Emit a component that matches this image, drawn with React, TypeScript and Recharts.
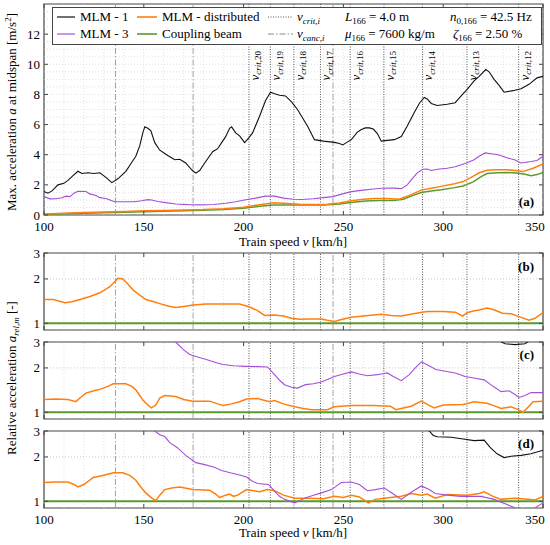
import React from 'react';
import { LineChart, Line, XAxis, YAxis, ReferenceLine, ReferenceArea } from 'recharts';

type P = [number, number];

const FONT = "'Liberation Serif', 'DejaVu Serif', serif";
const PLOT_W = 499;

const xTicks = [100, 150, 200, 250, 300, 350];
const yTicksAbs = [0, 2, 4, 6, 8, 10, 12];
const yTicksRel = [1, 2, 3];
const gridX = [110, 120, 130, 140, 150, 160, 170, 180, 190, 200, 210, 220, 230, 240, 250, 260, 270, 280, 290, 300, 310, 320, 330, 340];
const gridYAbs = [0.5, 1, 1.5, 2, 2.5, 3, 3.5, 4, 4.5, 5, 5.5, 6, 6.5, 7, 7.5, 8, 8.5, 9, 9.5, 10, 10.5, 11, 11.5, 12, 12.5, 13, 13.5];
const gridYRel = [2];

const vCrit = [202.7, 213.4, 225.2, 238.5, 253.4, 270.3, 289.6, 311.9, 337.8];
const vCritIdx = [20, 19, 18, 17, 16, 15, 14, 13, 12];
const vCanc = [135.8, 174.7, 244.8];

// Panel (a): absolute max acceleration [m/s^2]
const mlm1Abs: P[] = [[100,1.55],[102,1.45],[104,1.6],[107,2.0],[110,2.1],[112,2.3],[114,2.55],[117,2.9],[119,2.75],[122,2.8],[125,2.75],[128,2.8],[131,2.5],[134,2.15],[137,2.4],[141,2.9],[144,3.5],[146,3.9],[148,4.6],[149.5,5.45],[150.5,5.85],[152,5.75],[153.5,5.6],[155.5,4.8],[158,4.3],[162,3.95],[165.5,3.67],[168,3.7],[171,3.45],[174,3.0],[176,2.78],[178,2.95],[180.5,3.45],[184.5,4.2],[187,4.4],[189,4.8],[191,5.2],[193,5.75],[194,5.85],[196,5.45],[198,5.25],[200.5,4.8],[202.5,5.1],[204.5,5.45],[208,6.55],[211,7.6],[213.5,8.15],[215.5,8.05],[218,7.95],[221,7.9],[224,7.5],[227,7.0],[232,5.9],[235.5,5.0],[240,4.9],[245.5,4.82],[248,4.75],[249.7,4.65],[251.5,4.8],[254,5.0],[257,5.5],[259,5.67],[261,5.78],[263,5.78],[265,5.7],[267,5.4],[269,4.9],[272,4.95],[275.5,5.0],[279,5.2],[282,5.9],[285.5,6.8],[288,7.4],[290.5,7.8],[292,7.7],[294,7.4],[297,7.27],[302,7.35],[306,7.45],[309,7.9],[312,8.33],[315.5,8.9],[318,9.2],[321.3,9.65],[323,9.5],[325.5,9.0],[328,8.6],[330.5,8.15],[335,8.25],[339,8.38],[343,8.67],[347,9.1],[350,9.2]];
const mlm3Abs: P[] = [[100,1.22],[103,1.07],[106,1.08],[109,1.15],[111,1.25],[113,1.22],[115,1.45],[117,1.57],[121,1.56],[123,1.4],[126,1.3],[128,1.15],[131,1.1],[133,1.0],[135.5,0.88],[140,0.88],[145,0.88],[149,0.95],[152,1.02],[154,1.0],[157,0.9],[161,0.82],[166,0.73],[172,0.69],[178,0.67],[185,0.7],[191,0.78],[196,0.88],[200.5,1.0],[206,1.12],[211,1.25],[215.5,1.25],[220,1.12],[225,1.05],[229,1.03],[235,1.08],[240,1.15],[244.7,1.22],[250,1.42],[254,1.55],[260,1.65],[265,1.72],[269,1.77],[275,1.78],[279,1.75],[282,2.0],[284,2.33],[287,2.8],[289.7,3.04],[292,3.05],[294,2.95],[298,3.05],[302,3.1],[306,3.2],[311,3.42],[315.5,3.67],[318,3.9],[321,4.12],[325,4.05],[328,3.98],[332,3.8],[336,3.65],[339,3.45],[344,3.55],[347,3.62],[350,3.9]];
const distAbs: P[] = [[100,0.07],[110,0.12],[120,0.16],[130,0.2],[140,0.24],[150,0.28],[160,0.3],[170,0.33],[180,0.36],[190,0.42],[200,0.52],[208,0.68],[215,0.82],[220,0.78],[228,0.72],[235,0.7],[242,0.72],[248,0.8],[254,0.95],[260,1.05],[266,1.1],[272,1.1],[278,1.05],[284,1.35],[289,1.65],[294,1.78],[299,1.9],[305,2.05],[310,2.22],[314,2.5],[318,2.8],[322,2.97],[327,3.0],[332,3.0],[336,2.95],[340,2.88],[345,3.1],[350,3.38]];
const beamAbs: P[] = [[100,0.04],[110,0.08],[120,0.12],[130,0.15],[140,0.19],[150,0.22],[160,0.25],[170,0.28],[180,0.31],[190,0.36],[200,0.45],[208,0.58],[215,0.67],[222,0.67],[230,0.66],[240,0.67],[248,0.73],[255,0.85],[261,0.93],[268,0.96],[275,0.97],[280,1.05],[285,1.3],[289,1.49],[294,1.6],[299,1.67],[305,1.8],[310,1.93],[315,2.2],[319,2.55],[322,2.75],[327,2.8],[332,2.82],[337,2.78],[341,2.7],[344,2.6],[347,2.68],[350,2.82]];

// Panel (b): relative acceleration
const distRelB: P[] = [[100,1.45],[104.7,1.45],[110.5,1.38],[114,1.4],[118,1.45],[123,1.52],[128,1.61],[133,1.77],[135.5,1.92],[137,2.02],[139.5,2.0],[142,1.85],[144.7,1.68],[148,1.55],[151,1.45],[155,1.4],[158,1.36],[162,1.31],[166,1.28],[170,1.3],[174.7,1.33],[181,1.35],[190,1.35],[198,1.35],[203,1.29],[207,1.22],[210.5,1.13],[215.5,1.14],[220,1.12],[224,1.08],[228,1.065],[233,1.07],[239,1.07],[242,1.05],[245.5,1.03],[249,1.06],[254,1.1],[260,1.12],[265,1.14],[269,1.15],[274,1.13],[279,1.12],[285,1.16],[292,1.2],[300,1.2],[306,1.19],[309.7,1.12],[312,1.18],[315,1.21],[318,1.23],[322,1.27],[325,1.24],[329.7,1.17],[334,1.16],[338,1.11],[343,1.05],[346,1.08],[350,1.18]];
const beamRel: P[] = [[100,1],[350,1]];

// Panel (c)
const distRelC: P[] = [[100,1.22],[106,1.23],[112,1.22],[116,1.18],[118,1.25],[121,1.35],[125,1.4],[128,1.43],[132,1.5],[134.7,1.56],[141,1.56],[144,1.5],[146,1.42],[148,1.3],[149.5,1.21],[152,1.12],[153.8,1.07],[156,1.12],[158,1.25],[160.5,1.3],[166,1.28],[170,1.22],[174.5,1.19],[183,1.19],[187,1.14],[189.7,1.11],[194,1.14],[198,1.18],[201.5,1.23],[207,1.24],[213,1.18],[215.5,1.2],[220,1.14],[225.5,1.09],[230,1.06],[234,1.04],[242,1.04],[245.5,1.09],[254,1.11],[265,1.11],[273.5,1.1],[276.3,1.04],[280,1.07],[284,1.1],[289,1.19],[292,1.13],[295.5,1.07],[300,1.12],[310,1.13],[315.5,1.18],[322,1.15],[326,1.1],[329,1.06],[334,1.09],[337,1.05],[340,1.0],[343,1.1],[345,1.18],[350,1.19]];
const mlm3RelC: P[] = [[100,8],[130,5],[150,3.8],[160,3.3],[166,3.0],[170,2.65],[173,2.47],[177,2.37],[181.3,2.28],[186,2.18],[189.7,2.11],[195,2.07],[201.3,2.05],[207,2.04],[212,2.03],[215.5,1.8],[218,1.65],[220.5,1.54],[224,1.48],[227,1.46],[231,1.54],[235,1.56],[238.5,1.6],[242,1.67],[245.5,1.75],[250,1.82],[254,1.88],[258,1.82],[262,1.77],[267,1.8],[272,1.85],[275,1.75],[279,1.64],[283,1.8],[286,2.0],[289,2.2],[292,2.1],[296.3,1.95],[301,1.9],[306,1.85],[311,1.75],[316,1.7],[320.5,1.66],[325,1.5],[329,1.38],[333,1.4],[336,1.32],[338,1.26],[341,1.3],[344,1.36],[350,1.36]];
const mlm1RelC: P[] = [[100,9],[200,6],[300,4],[320,3.4],[327,3.1],[331,2.92],[336,2.88],[341,2.92],[344,3.1],[350,3.5]];

// Panel (d)
const distRelD: P[] = [[100,1.34],[106,1.35],[112,1.35],[115,1.3],[117,1.25],[120,1.3],[124.7,1.45],[130,1.5],[134.7,1.56],[139.5,1.56],[143,1.5],[146,1.39],[148.5,1.25],[151,1.14],[154,1.05],[156,1.01],[158,1.1],[160.5,1.2],[164,1.23],[168,1.25],[174.5,1.2],[183,1.19],[186,1.12],[188,1.06],[191,1.1],[193,1.12],[195,1.08],[197,1.1],[201.5,1.2],[205,1.18],[208,1.16],[212,1.2],[215.5,1.18],[220,1.1],[225.5,1.05],[233,1.05],[240,1.04],[245.5,1.08],[250,1.06],[254,1.1],[258,1.07],[262.5,0.975],[266,1.03],[270.5,1.05],[279,1.08],[284,1.13],[289,1.1],[292,1.12],[296,1.05],[302,1.11],[312,1.1],[318,1.13],[320.5,1.16],[325,1.08],[329,1.03],[336,1.05],[342.5,1.03],[346,1.02],[350,1.08]];
const mlm3RelD: P[] = [[100,10],[130,5],[150,3.3],[155.5,3.0],[158,2.83],[160.5,2.75],[163,2.5],[166.7,2.32],[171,2.05],[176,1.83],[180,1.78],[185,1.71],[189,1.62],[193.3,1.56],[197,1.52],[201.5,1.46],[204,1.38],[207,1.32],[212.5,1.3],[215.5,1.17],[218,1.08],[220.5,1.03],[225.5,0.975],[230.5,1.05],[235,1.1],[239,1.14],[244,1.2],[249,1.34],[254,1.35],[258,1.3],[262,1.18],[266,1.2],[270.5,1.23],[275,1.12],[279,1.03],[284,1.15],[289,1.27],[293,1.2],[296,1.13],[302,1.1],[309,1.08],[319,1.08],[325.5,1.03],[332,0.95],[336,0.9],[340,0.86],[344,0.86],[347,0.92],[350,0.975]];
const mlm1RelD: P[] = [[100,20],[200,8],[260,4.5],[285,3.4],[293,3.0],[295,2.8],[297,2.74],[304,2.72],[310,2.65],[315.5,2.58],[320.5,2.6],[323.5,2.32],[327,2.1],[330.5,1.98],[334,2.02],[339,2.05],[344,2.1],[350,2.22]];

const C_BLACK = '#111111';
const C_ORANGE = '#ff7f0e';
const C_PURPLE = '#a34fd8';
const C_GREEN = '#5a9a2c';

const toData = (pts: P[]) => pts.map(([v, y]) => ({ v, y }));

const XTick = (props: any) => {
  const { x, y, payload, plotH, showLabel } = props;
  const lx = payload.value === 350 ? x - 8 : x;
  return (
    <g>
      <line x1={x} x2={x} y1={y} y2={y - 4} stroke="#444" strokeWidth={1} />
      <line x1={x} x2={x} y1={y - plotH} y2={y - plotH + 4} stroke="#444" strokeWidth={1} />
      {showLabel && (
        <text x={lx} y={y + 16} textAnchor="middle" fontFamily={FONT} fontSize={13} fill="#000">
          {payload.value}
        </text>
      )}
    </g>
  );
};

const YTick = (props: any) => {
  const { x, y, payload } = props;
  return (
    <g>
      <line x1={x} x2={x + 4} y1={y} y2={y} stroke="#444" strokeWidth={1} />
      <line x1={x + PLOT_W} x2={x + PLOT_W - 4} y1={y} y2={y} stroke="#444" strokeWidth={1} />
      <text x={x - 4} y={y + 4.5} textAnchor="end" fontFamily={FONT} fontSize={13} fill="#000">
        {payload.value}
      </text>
    </g>
  );
};

const CritLabel = (props: any) => {
  const { viewBox, idx } = props;
  if (!viewBox) return null;
  const x = viewBox.x + 10;
  return (
    <text transform={`translate(${x},51) rotate(-90)`} textAnchor="end" fontFamily={FONT} fontSize={13} fill="#000">
      <tspan fontStyle="italic">v</tspan>
      <tspan fontSize={9} dy={2.5} fontStyle="italic">crit,</tspan>
      <tspan fontSize={9}>{idx}</tspan>
    </text>
  );
};

type Series = { data: P[]; color: string; width: number };

type PanelProps = {
  top: number;
  height: number;
  marginTop: number;
  xAxisHeight: number;
  plotH: number;
  log: boolean;
  yDomain: [number, number];
  yTicks: number[];
  gridY: number[];
  series: Series[];
  showXLabels: boolean;
  critLabels: boolean;
};

function Panel(p: PanelProps) {
  return (
    <div style={{ position: 'absolute', left: 0, top: p.top }}>
      <LineChart width={550} height={p.height} margin={{ top: p.marginTop, right: 7, bottom: 0, left: 0 }}>
        <XAxis
          type="number"
          dataKey="v"
          domain={[100, 350]}
          ticks={xTicks}
          interval={0}
          allowDataOverflow
          axisLine={false}
          tickLine={false}
          tickSize={0}
          tickMargin={0}
          height={p.xAxisHeight}
          tick={(tp: any) => <XTick {...tp} plotH={p.plotH} showLabel={p.showXLabels} />}
        />
        <YAxis
          type="number"
          scale={p.log ? 'log' : 'linear'}
          domain={p.yDomain}
          ticks={p.yTicks}
          interval={0}
          allowDataOverflow
          width={44}
          axisLine={false}
          tickLine={false}
          tickSize={0}
          tickMargin={0}
          tick={(tp: any) => <YTick {...tp} />}
        />
        {gridX.map((g) => (
          <ReferenceLine key={'gx' + g} x={g} stroke="#d4d4d4" strokeWidth={0.7} strokeDasharray="1 2" />
        ))}
        {p.gridY.map((g) => (
          <ReferenceLine key={'gy' + g} y={g} stroke={p.log ? '#b0b0b0' : '#d4d4d4'} strokeWidth={0.7} strokeDasharray="1 2" />
        ))}
        {vCanc.map((v) => (
          <ReferenceLine key={'vc' + v} x={v} stroke="#a0a0a0" strokeWidth={1} strokeDasharray="6 2 1.5 2" />
        ))}
        {vCrit.map((v, i) => (
          <ReferenceLine
            key={'vk' + v}
            x={v}
            stroke="#555"
            strokeWidth={1}
            strokeDasharray="1 1.5"
            label={p.critLabels ? <CritLabel idx={vCritIdx[i]} /> : undefined}
          />
        ))}
        {p.series.map((s, i) => (
          <Line
            key={'s' + i}
            data={toData(s.data)}
            dataKey="y"
            type="linear"
            stroke={s.color}
            strokeWidth={s.width}
            dot={false}
            activeDot={false}
            isAnimationActive={false}
          />
        ))}
        <ReferenceArea x1={100} x2={350} y1={p.yDomain[0]} y2={p.yDomain[1]} fill="none" stroke="#444" strokeWidth={1.2} />
      </LineChart>
    </div>
  );
}

const T = (props: any) => <text fontFamily={FONT} fontSize={13} fill="#000" {...props} />;

function Overlay() {
  return (
    <svg width={550} height={545} style={{ position: 'absolute', left: 0, top: 0, pointerEvents: 'none' }}>
      <rect x={52.5} y={7.5} width={489} height={37} fill="#fff" stroke="#444" strokeWidth={1} />
      <line x1={57} x2={75} y1={17} y2={17} stroke={C_BLACK} strokeWidth={1.2} />
      <T x={80} y={21}>MLM - 1</T>
      <line x1={137} x2={157} y1={17} y2={17} stroke={C_ORANGE} strokeWidth={1.6} />
      <T x={162} y={21}>MLM - distributed</T>
      <line x1={268} x2={293} y1={17} y2={17} stroke="#555" strokeWidth={1} strokeDasharray="1 1.5" />
      <T x={297} y={21}>
        <tspan fontStyle="italic">v</tspan>
        <tspan fontSize={9} dy={3} fontStyle="italic">crit,i</tspan>
      </T>
      <T x={345} y={21}>
        <tspan fontStyle="italic">L</tspan>
        <tspan fontSize={9} dy={3}>166</tspan>
        <tspan dy={-3}> = 4.0 m</tspan>
      </T>
      <T x={450} y={21}>
        <tspan fontStyle="italic">n</tspan>
        <tspan fontSize={9} dy={3}>0,166</tspan>
        <tspan dy={-3}> = 42.5 Hz</tspan>
      </T>

      <line x1={57} x2={75} y1={34} y2={34} stroke={C_PURPLE} strokeWidth={1.2} />
      <T x={80} y={38}>MLM - 3</T>
      <line x1={137} x2={157} y1={34} y2={34} stroke={C_GREEN} strokeWidth={1.6} />
      <T x={162} y={38}>Coupling beam</T>
      <line x1={268} x2={293} y1={34} y2={34} stroke="#888" strokeWidth={1} strokeDasharray="6 2 1.5 2" />
      <T x={297} y={38}>
        <tspan fontStyle="italic">v</tspan>
        <tspan fontSize={9} dy={3} fontStyle="italic">canc,i</tspan>
      </T>
      <T x={345} y={38}>
        <tspan fontStyle="italic">μ</tspan>
        <tspan fontSize={9} dy={3}>166</tspan>
        <tspan dy={-3}> = 7600 kg/m</tspan>
      </T>
      <T x={453} y={38}>
        <tspan fontStyle="italic">ζ</tspan>
        <tspan fontSize={9} dy={3}>166</tspan>
        <tspan dy={-3}> = 2.50 %</tspan>
      </T>

      <T transform="translate(16,112) rotate(-90)" textAnchor="middle">
        <tspan>Max. acceleration </tspan>
        <tspan fontStyle="italic">a</tspan>
        <tspan> at midspan [m/s</tspan>
        <tspan fontSize={9} dy={-5}>2</tspan>
        <tspan dy={5}>]</tspan>
      </T>
      <T transform="translate(16,378) rotate(-90)" textAnchor="middle">
        <tspan>Relative acceleration </tspan>
        <tspan fontStyle="italic">a</tspan>
        <tspan fontSize={9} dy={3} fontStyle="italic">rel,m</tspan>
        <tspan dy={-3}> [-]</tspan>
      </T>
      <T x={293} y={246} textAnchor="middle">
        <tspan>Train speed </tspan>
        <tspan fontStyle="italic">v</tspan>
        <tspan> [km/h]</tspan>
      </T>
      <T x={293} y={537} textAnchor="middle">
        <tspan>Train speed </tspan>
        <tspan fontStyle="italic">v</tspan>
        <tspan> [km/h]</tspan>
      </T>
      <T x={534} y={206} textAnchor="end" fontWeight="bold">(a)</T>
      <T x={534} y={271} textAnchor="end" fontWeight="bold">(b)</T>
      <T x={534} y={359} textAnchor="end" fontWeight="bold">(c)</T>
      <T x={534} y={448} textAnchor="end" fontWeight="bold">(d)</T>
    </svg>
  );
}

export default function App() {
  return (
    <div style={{ position: 'absolute', left: 0, top: 0, width: 550, height: 545, background: '#fff', overflow: 'hidden' }}>
      <Panel
        top={0}
        height={250}
        marginTop={4}
        xAxisHeight={35}
        plotH={211}
        log={false}
        yDomain={[0, 14]}
        yTicks={yTicksAbs}
        gridY={gridYAbs}
        showXLabels={true}
        critLabels={true}
        series={[
          { data: beamAbs, color: C_GREEN, width: 1.5 },
          { data: distAbs, color: C_ORANGE, width: 1.5 },
          { data: mlm3Abs, color: C_PURPLE, width: 1.1 },
          { data: mlm1Abs, color: C_BLACK, width: 1.1 },
        ]}
      />
      <Panel
        top={244}
        height={90}
        marginTop={9}
        xAxisHeight={4}
        plotH={77}
        log={true}
        yDomain={[0.9, 3]}
        yTicks={yTicksRel}
        gridY={gridYRel}
        showXLabels={false}
        critLabels={false}
        series={[
          { data: beamRel, color: C_GREEN, width: 2.2 },
          { data: distRelB, color: C_ORANGE, width: 1.5 },
        ]}
      />
      <Panel
        top={333}
        height={90}
        marginTop={9}
        xAxisHeight={4}
        plotH={77}
        log={true}
        yDomain={[0.9, 3]}
        yTicks={yTicksRel}
        gridY={gridYRel}
        showXLabels={false}
        critLabels={false}
        series={[
          { data: beamRel, color: C_GREEN, width: 2.2 },
          { data: distRelC, color: C_ORANGE, width: 1.5 },
          { data: mlm3RelC, color: C_PURPLE, width: 1.1 },
          { data: mlm1RelC, color: C_BLACK, width: 1.1 },
        ]}
      />
      <Panel
        top={422}
        height={123}
        marginTop={9}
        xAxisHeight={37}
        plotH={77}
        log={true}
        yDomain={[0.9, 3]}
        yTicks={yTicksRel}
        gridY={gridYRel}
        showXLabels={true}
        critLabels={false}
        series={[
          { data: beamRel, color: C_GREEN, width: 2.2 },
          { data: distRelD, color: C_ORANGE, width: 1.5 },
          { data: mlm3RelD, color: C_PURPLE, width: 1.1 },
          { data: mlm1RelD, color: C_BLACK, width: 1.1 },
        ]}
      />
      <Overlay />
    </div>
  );
}
